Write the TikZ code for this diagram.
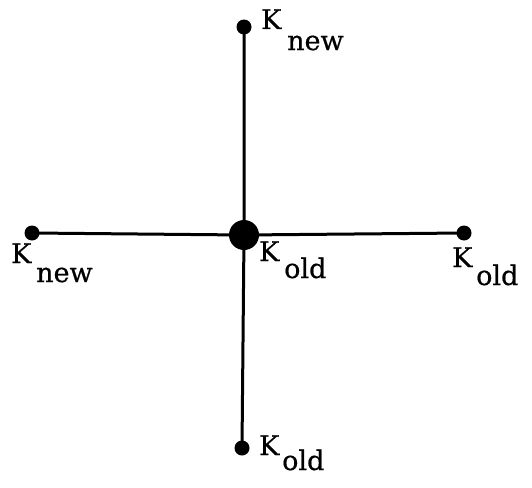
\documentclass[tikz,border=0pt]{standalone}
\usepackage{fontspec}
\setmainfont{DejaVu Serif}[FakeBold=0.6]
\begin{document}
\begin{tikzpicture}[x=1pt,y=-1pt,
  dot/.style={circle,fill=black,inner sep=0pt,minimum size=15pt},
  bigdot/.style={circle,fill=black,inner sep=0pt,minimum size=30pt},
  lbl/.style={anchor=base west,inner sep=0pt,font=\fontsize{27}{31}\selectfont},
  wire/.style={line width=3pt}]
\useasboundingbox (0,0) rectangle (532,487);
\node[bigdot] (c) at (244,235) {};
\node[dot] (t) at (244,27) {};
\node[dot] (l) at (32,233) {};
\node[dot] (r) at (464,233) {};
\node[dot] (b) at (242,448) {};
\draw[wire] (t.center) -- (c.center) -- (b.center);
\draw[wire] (l.center) -- (c.center) -- (r.center);
% labels
\node[lbl] (tk) at (261,29) {K};
\node[lbl] (ts) at (287,50) {new};
\node[lbl] (lk) at (11,263) {K};
\node[lbl] (ls) at (36,282) {new};
\node[lbl] (ck) at (259,261) {K};
\node[lbl] (cs) at (284,278) {old};
\node[lbl] (rk) at (452,267) {K};
\node[lbl] (rs) at (476,285) {old};
\node[lbl] (bk) at (259,455) {K};
\node[lbl] (bs) at (282,470) {old};
\end{tikzpicture}
\end{document}
